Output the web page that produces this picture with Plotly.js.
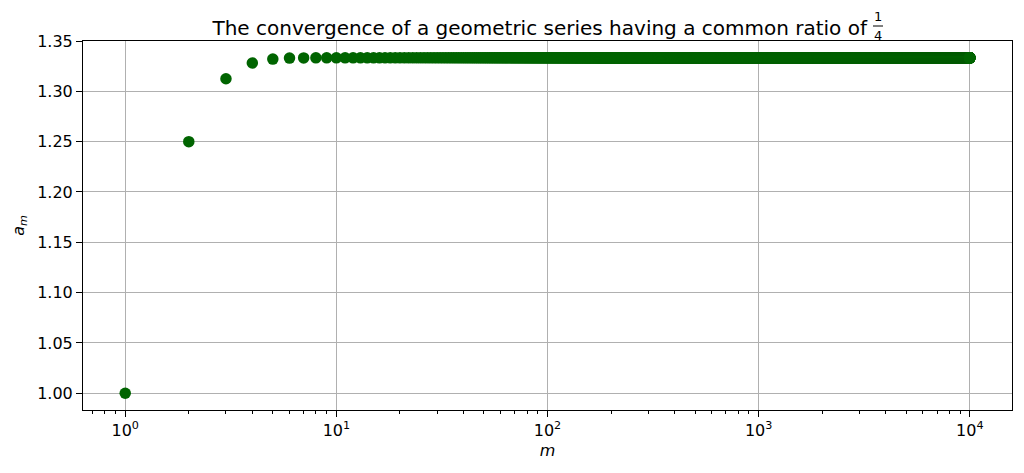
<!DOCTYPE html>
<html>
<head>
<meta charset="utf-8">
<script src="https://cdn.plot.ly/plotly-3.0.1.min.js"></script>
<style>html,body{margin:0;padding:0;background:#fff;}#chart{width:1024px;height:473px;}</style>
</head>
<body>
<div id="chart"></div>
<script>
// Partial sums a_m (first terms), then the converged value
var firstValues = [1.0, 1.25, 1.3125, 1.3281, 1.3320, 1.3330, 1.3332, 1.3333];
var convergedValue = 1.3333;
var mCount = 10000;
var xTickVals = [1, 10, 100, 1000, 10000];
var xTickText = ['10<sup>0</sup>', '10<sup>1</sup>', '10<sup>2</sup>', '10<sup>3</sup>', '10<sup>4</sup>'];
var minorTickVals = [0.7, 0.8, 0.9,
  2, 3, 4, 5, 6, 7, 8, 9,
  20, 30, 40, 50, 60, 70, 80, 90,
  200, 300, 400, 500, 600, 700, 800, 900,
  2000, 3000, 4000, 5000, 6000, 7000, 8000, 9000];

var m = [], am = [];
for (var i = 1; i <= mCount; i++) {
  m.push(i);
  am.push(i <= firstValues.length ? firstValues[i - 1] : convergedValue);
}

var font = 'DejaVu Sans, sans-serif';
var W = 1024, L = 83, R = 12, PW = W - L - R;

var data = [{
  x: m, y: am, type: 'scatter', mode: 'markers',
  marker: {color: '#006400', size: 11.5, line: {width: 0}},
  hoverinfo: 'none'
}];

var layout = {
  width: 1024, height: 473,
  margin: {l: L, r: R, t: 41, b: 63},
  paper_bgcolor: '#fff', plot_bgcolor: '#fff',
  showlegend: false,
  font: {family: font, size: 16, color: '#000'},
  title: {
    text: 'The convergence of a geometric series having a common ratio of',
    font: {family: font, size: 20, color: '#000'},
    xref: 'paper', x: (867 - L) / PW, xanchor: 'right',
    yref: 'container', y: 1 - 35 / 473, yanchor: 'bottom',
    pad: {t: 0, b: 0, l: 0, r: 0}
  },
  xaxis: {
    type: 'log', range: [-0.2, 4.2],
    tickmode: 'array', tickvals: xTickVals, ticktext: xTickText,
    ticks: 'outside', ticklen: 6, tickwidth: 1, tickcolor: '#000',
    showgrid: true, gridcolor: '#b0b0b0', gridwidth: 1,
    showline: true, linecolor: '#000', linewidth: 1, mirror: true,
    zeroline: false,
    tickfont: {family: font, size: 16, color: '#000'},
    minor: {tickmode: 'array', tickvals: minorTickVals, ticks: 'outside', ticklen: 3, tickwidth: 1, tickcolor: '#000', showgrid: false},
    title: {text: '<i>m</i>', font: {family: font, size: 16, color: '#000'}, standoff: 5}
  },
  yaxis: {
    range: [0.98333, 1.35],
    tickmode: 'linear', tick0: 1.0, dtick: 0.05, tickformat: '.2f',
    ticks: 'outside', ticklen: 6, tickwidth: 1, tickcolor: '#000',
    showgrid: true, gridcolor: '#b0b0b0', gridwidth: 1,
    showline: true, linecolor: '#000', linewidth: 1, mirror: true,
    zeroline: false,
    tickfont: {family: font, size: 16, color: '#000'},
    title: {text: '<i>a</i><sub><i>m</i></sub>', font: {family: font, size: 16, color: '#000'}, standoff: 8}
  },
  annotations: [
    {text: '1', xref: 'paper', yref: 'paper', x: (878 - L) / PW, y: 1 + (41 - 25) / 369,
     xanchor: 'center', yanchor: 'bottom', showarrow: false, borderpad: 0,
     font: {family: font, size: 13, color: '#000'}},
    {text: '4', xref: 'paper', yref: 'paper', x: (878 - L) / PW, y: 1 + (41 - 27) / 369,
     xanchor: 'center', yanchor: 'top', showarrow: false, borderpad: 0,
     font: {family: font, size: 13, color: '#000'}}
  ],
  shapes: [
    {type: 'line', xref: 'paper', yref: 'paper',
     x0: (873 - L) / PW, x1: (883 - L) / PW, y0: 1 + (41 - 26) / 369, y1: 1 + (41 - 26) / 369,
     line: {color: '#000', width: 1}}
  ]
};

Plotly.newPlot('chart', data, layout, {staticPlot: true, displayModeBar: false});
</script>
</body>
</html>
